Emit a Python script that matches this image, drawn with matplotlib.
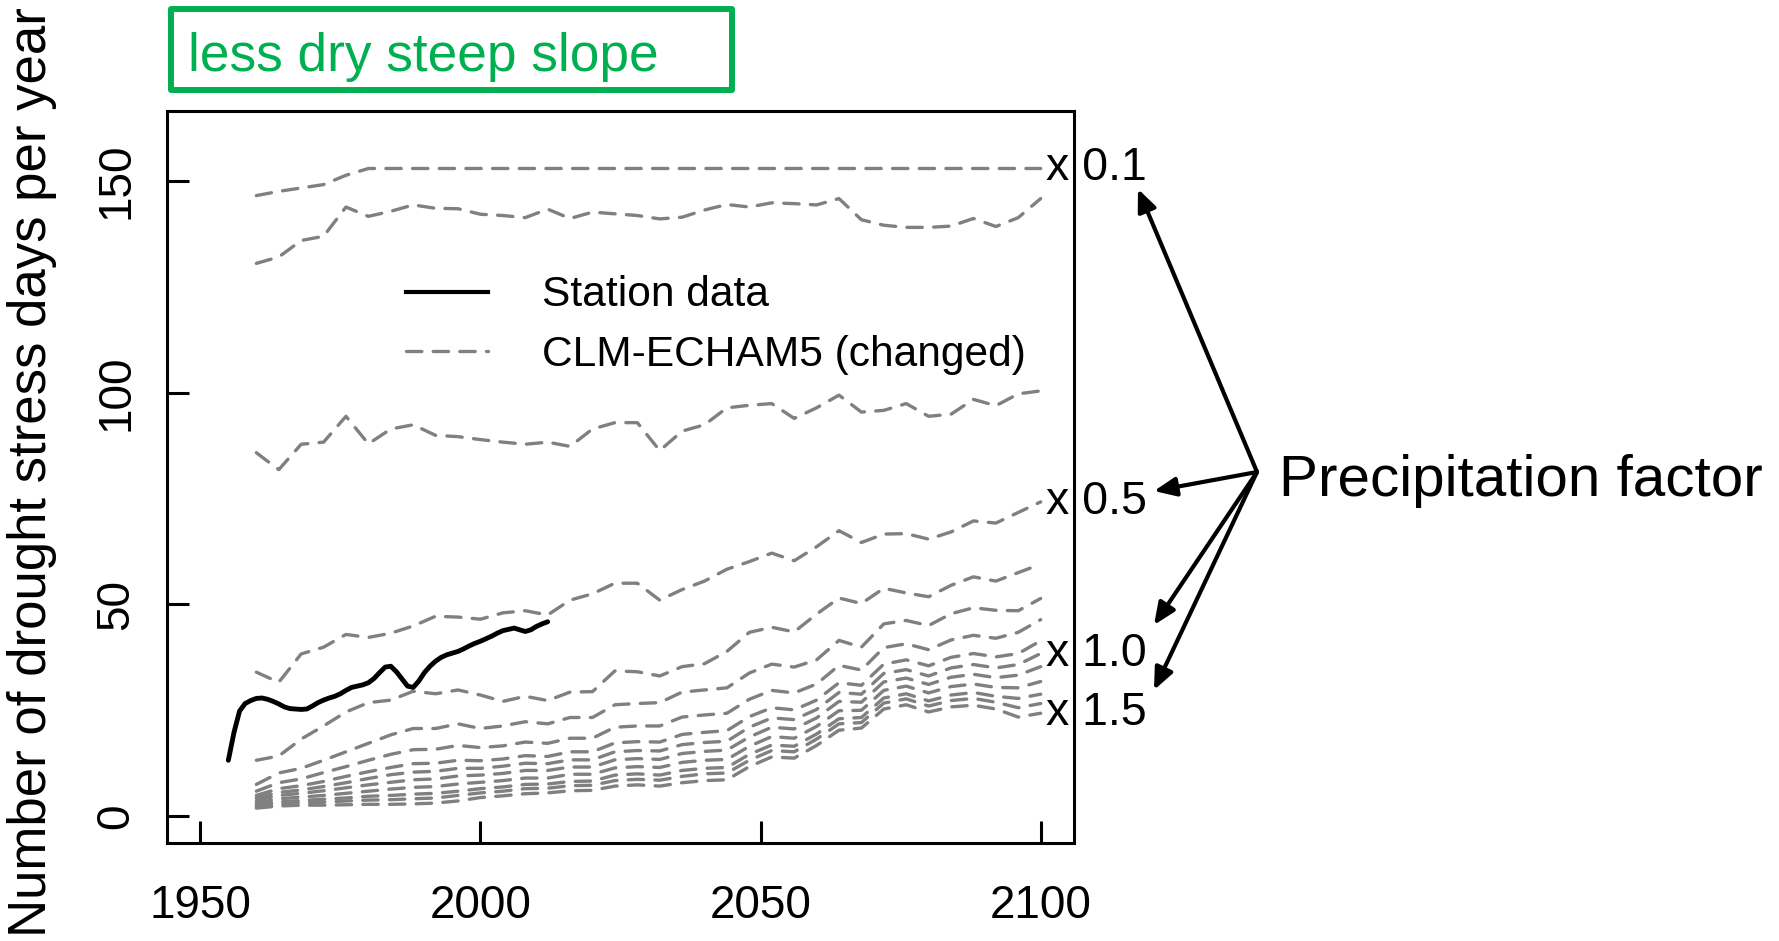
import matplotlib
matplotlib.use("Agg")
import matplotlib.pyplot as plt
from matplotlib.lines import Line2D
from matplotlib.patches import Rectangle, FancyArrowPatch

W, H = 1779, 941
plt.rcParams['font.family'] = ['Liberation Sans', 'DejaVu Sans']

# Observed station record (smoothed), drought stress days per year
station_years = list(range(1955, 2013))
station_days = [13.2, 19.7, 24.8, 26.6, 27.3, 27.8, 27.9, 27.6, 27.1, 26.5,
                25.8, 25.4, 25.3, 25.2, 25.3, 26.0, 26.8, 27.4, 27.9, 28.3,
                28.9, 29.7, 30.4, 30.7, 31.0, 31.5, 32.5, 33.9, 35.2, 35.4,
                34.1, 32.4, 30.7, 30.4, 31.9, 33.9, 35.4, 36.6, 37.5, 38.1,
                38.5, 38.9, 39.5, 40.2, 40.8, 41.3, 41.9, 42.5, 43.2, 43.8,
                44.1, 44.4, 44.0, 43.6, 44.0, 44.8, 45.4, 45.9]

# CLM-ECHAM5 runs with scaled precipitation
model_years = list(range(1960, 2101, 4))
clm_p01 = [146.5, 147.5, 148.3, 149.1, 151.3, 152.9, 152.9, 152.9, 152.9, 152.9,
           152.9, 152.9, 152.9, 152.9, 152.9, 152.9, 152.9, 152.9, 152.9, 152.9,
           152.9, 152.9, 152.9, 152.9, 152.9, 152.9, 152.9, 152.9, 152.9, 152.9,
           152.9, 152.9, 152.9, 152.9, 152.9, 152.9]
clm_p02 = [130.5, 132.0, 135.9, 136.9, 143.8, 141.6, 142.8, 144.3, 143.5, 143.4,
           142.1, 141.8, 141.3, 143.3, 141.1, 142.6, 142.2, 141.8, 141.0, 141.4,
           143.1, 144.4, 143.8, 144.8, 144.6, 144.3, 145.8, 140.8, 139.5, 139.0,
           139.0, 139.3, 141.1, 139.2, 141.3, 145.8]
clm_p03 = [85.8, 81.8, 87.8, 88.3, 94.4, 87.9, 91.4, 92.4, 89.9, 89.6,
           88.9, 88.3, 87.8, 88.3, 87.3, 91.4, 92.9, 92.9, 86.3, 90.9,
           92.4, 96.4, 97.0, 97.4, 93.9, 96.4, 99.4, 95.4, 95.8, 97.4,
           94.4, 94.9, 98.4, 96.9, 99.7, 100.4]
clm_p05 = [34.0, 31.6, 38.3, 39.9, 42.9, 42.2, 43.2, 44.9, 47.2, 47.0,
           46.5, 48.0, 48.5, 47.5, 51.0, 52.5, 55.0, 55.0, 51.0, 53.5,
           55.5, 58.3, 60.1, 62.1, 60.3, 63.6, 67.4, 64.6, 66.6, 66.7,
           65.4, 67.1, 69.7, 69.2, 71.7, 74.2]
clm_p06 = [13.2, 14.2, 18.2, 21.3, 24.6, 26.8, 27.4, 29.5, 28.9, 29.8,
           28.6, 27.1, 28.3, 27.3, 29.3, 29.4, 34.3, 34.1, 33.1, 35.3,
           36.0, 38.9, 43.4, 44.6, 43.5, 47.7, 51.5, 50.2, 53.8, 52.7,
           51.8, 54.5, 56.5, 55.5, 57.5, 59.5]
clm_p07 = [7.5, 10.2, 11.3, 13.2, 15.2, 17.2, 19.2, 20.7, 20.7, 21.8,
           20.7, 21.3, 22.3, 21.8, 23.3, 23.3, 26.3, 26.6, 26.8, 29.3,
           29.8, 30.3, 33.8, 35.9, 35.2, 36.9, 41.5, 39.9, 45.4, 46.2,
           45.0, 47.8, 49.2, 48.6, 48.5, 51.4]
clm_p08 = [5.9, 7.9, 8.8, 10.3, 11.7, 13.2, 14.6, 15.7, 15.8, 16.7,
           16.2, 16.6, 17.5, 17.2, 18.4, 18.4, 21.0, 21.3, 21.3, 23.4,
           23.9, 24.3, 27.6, 29.7, 29.1, 31.2, 35.6, 34.5, 39.8, 40.7,
           39.3, 41.6, 42.7, 42.0, 43.4, 46.4]
clm_p09 = [4.9, 6.5, 7.2, 8.2, 9.4, 10.5, 11.5, 12.4, 12.5, 13.2,
           13.1, 13.5, 14.3, 14.1, 15.2, 15.2, 17.3, 17.6, 17.5, 19.3,
           19.8, 20.2, 23.5, 25.6, 25.1, 27.4, 31.5, 30.9, 35.9, 36.9,
           35.5, 37.5, 38.4, 37.6, 38.4, 41.4]
clm_p10 = [4.3, 5.6, 6.2, 7.0, 7.9, 8.9, 9.8, 10.4, 10.6, 11.3,
           11.3, 11.8, 12.5, 12.4, 13.3, 13.3, 15.2, 15.5, 15.4, 16.9,
           17.4, 17.7, 21.0, 23.2, 22.8, 25.2, 29.2, 28.8, 33.7, 34.6,
           33.1, 35.0, 35.8, 35.0, 35.8, 38.4]
clm_p11 = [3.7, 4.9, 5.4, 6.0, 6.7, 7.4, 8.0, 8.6, 8.8, 9.5,
           9.7, 10.1, 10.8, 10.8, 11.6, 11.6, 13.3, 13.6, 13.4, 14.8,
           15.3, 15.6, 18.7, 21.0, 20.6, 23.2, 27.1, 26.9, 31.7, 32.6,
           31.1, 32.8, 33.5, 32.7, 33.3, 35.3]
clm_p12 = [3.1, 4.1, 4.5, 4.9, 5.4, 5.9, 6.4, 6.8, 7.0, 7.6,
           8.0, 8.4, 9.0, 9.0, 9.9, 9.9, 11.4, 11.7, 11.5, 12.7,
           13.2, 13.4, 16.5, 18.8, 18.4, 21.2, 24.9, 25.0, 29.7, 30.7,
           29.1, 30.6, 31.2, 30.4, 30.3, 31.8]
clm_p13 = [2.6, 3.4, 3.7, 4.0, 4.3, 4.7, 4.9, 5.2, 5.4, 5.9,
           6.5, 6.9, 7.5, 7.6, 8.2, 8.3, 9.7, 10.0, 9.7, 10.8,
           11.3, 11.5, 14.6, 16.8, 16.5, 19.4, 23.0, 23.3, 27.9, 28.9,
           27.2, 28.6, 29.2, 28.3, 27.8, 28.8]
clm_p14 = [2.3, 2.9, 3.2, 3.3, 3.6, 3.8, 3.9, 4.1, 4.3, 4.9,
           5.5, 5.9, 6.5, 6.6, 7.2, 7.3, 8.4, 8.7, 8.5, 9.4,
           10.0, 10.2, 13.2, 15.5, 15.2, 18.2, 21.8, 22.1, 26.7, 27.7,
           26.0, 27.3, 27.8, 26.9, 25.6, 26.6]
clm_p15 = [1.9, 2.4, 2.6, 2.6, 2.7, 2.8, 2.8, 2.9, 3.1, 3.6,
           4.4, 4.8, 5.3, 5.5, 6.0, 6.1, 7.1, 7.4, 7.1, 7.9,
           8.4, 8.6, 11.7, 14.0, 13.7, 16.7, 20.3, 20.8, 25.3, 26.3,
           24.6, 25.8, 26.2, 25.3, 23.4, 24.3]

clm_runs = [clm_p01, clm_p02, clm_p03, clm_p05, clm_p06, clm_p07, clm_p08,
            clm_p09, clm_p10, clm_p11, clm_p12, clm_p13, clm_p14, clm_p15]
labelled_runs = [("x 0.1", clm_p01), ("x 0.5", clm_p05),
                 ("x 1.0", clm_p10), ("x 1.5", clm_p15)]

x_ticks = [1950, 2000, 2050, 2100]
y_ticks = [0, 50, 100, 150]

GREY = '#808080'
GREEN = '#00B050'
DASH = (0, (4.6, 3.4))


def fig_xy(px, py):
    """Pixel position (from top-left) to figure fraction."""
    return px / W, 1 - py / H


fig = plt.figure(figsize=(W / 100, H / 100), dpi=100)
ax = fig.add_axes([166.7 / W, 1 - 843.3 / H, (1074.3 - 166.7) / W, (843.3 - 111.3) / H])

for run in clm_runs:
    ax.plot(model_years, run, color=GREY, lw=2.4, linestyle=DASH,
            dash_capstyle='round', dash_joinstyle='round', zorder=2)
ax.plot(station_years, station_days, color='black', lw=3.5,
        solid_capstyle='round', solid_joinstyle='round', zorder=3)

ax.set_xlim(1944, 2106)
ax.set_ylim(-6.4, 166.4)
ax.set_xticks(x_ticks)
ax.set_yticks(y_ticks)
for s in ax.spines.values():
    s.set_linewidth(2.2)
ax.tick_params(direction='in', length=16, width=2.2, labelsize=33)
ax.tick_params(axis='x', pad=29.5)
ax.tick_params(axis='y', pad=20.5, labelrotation=90)
for lab in ax.get_yticklabels():
    lab.set_verticalalignment('center')

ax.set_ylabel('Number of drought stress days per year', fontsize=38)
ax.yaxis.set_label_coords(-0.121, 0.507)

# Labels at the end of selected runs
for text, run in labelled_runs:
    ax.annotate(text, xy=(model_years[-1], run[-1]), xytext=(4, 0),
                textcoords='offset points', ha='left', va='center',
                fontsize=33.5, annotation_clip=False)

leg = ax.legend(handles=[Line2D([], [], color='black', lw=3.0),
                         Line2D([], [], color=GREY, lw=2.4, linestyle=DASH,
                                dash_capstyle='round')],
                labels=['Station data', 'CLM-ECHAM5 (changed)'],
                loc='center left', bbox_to_anchor=fig_xy(406, 325),
                bbox_transform=fig.transFigure, frameon=False, fontsize=30.6,
                handlelength=1.93, handletextpad=1.27, labelspacing=0.45,
                borderpad=0, borderaxespad=0)

# Title box
x0, y0 = fig_xy(170.8, 90.2)
x1, y1 = fig_xy(732.2, 8.8)
fig.add_artist(Rectangle((x0, y0), x1 - x0, y1 - y0, transform=fig.transFigure,
                         fill=False, edgecolor=GREEN, lw=4.3, joinstyle='round'))
fig.text(*fig_xy(188, 70.5), 'less dry steep slope', color=GREEN,
         fontsize=38.3, va='baseline', ha='left')

# Annotation arrows
fig.text(*fig_xy(1279, 496), 'Precipitation factor', fontsize=42,
         va='baseline', ha='left')
origin = fig_xy(1257, 472)
for tip in [(1138, 189), (1154, 491), (1154, 625), (1154, 690)]:
    fig.add_artist(FancyArrowPatch(origin, fig_xy(*tip), transform=fig.transFigure,
                                   arrowstyle='-|>,head_length=0.6,head_width=0.26',
                                   mutation_scale=22, lw=3.0, color='black',
                                   shrinkA=0, shrinkB=0))

fig.savefig('out.png', dpi=100)
